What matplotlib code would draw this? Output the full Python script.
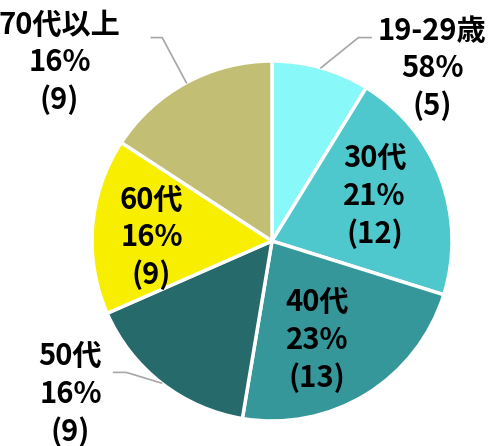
import numpy as np
import matplotlib
matplotlib.use("Agg")
import matplotlib.pyplot as plt

plt.rcParams['font.family'] = ['Noto Sans CJK JP', 'DejaVu Sans']

# data
groups = ["19-29歳", "30代", "40代", "50代", "60代", "70代以上"]
counts = [5, 12, 13, 9, 9, 9]
pct_labels = ["58%", "21%", "23%", "16%", "16%", "16%"]
colors = ["#88F8F8", "#4EC8CC", "#36979A", "#276A6C", "#F7EE00", "#C2BF74"]

# label placement: (x, y) in pie units, and outside leader points
label_pos = [(0.89, 0.96), (0.57, 0.25), (0.25, -0.55), (-1.12, -0.85), (-0.67, 0.02), (-1.18, 0.99)]
leader_elbow = [(0.48, 1.13), None, None, (-0.81, -0.73), None, (-0.61, 1.13)]
leader_end = [(0.55, 1.13), None, None, (-0.88, -0.73), None, (-0.67, 1.13)]

fig = plt.figure(figsize=(4.96, 4.46), dpi=100)
ax = fig.add_axes([0, 0, 1, 1])

wedges, _ = ax.pie(counts, colors=colors, startangle=90, counterclock=False,
                   radius=1, wedgeprops=dict(edgecolor='white', linewidth=2.5))

cx, cy, R = 272, 241, 180
ax.set_xlim(-cx / R, (496 - cx) / R)
ax.set_ylim(-(446 - cy) / R, cy / R)
ax.set_aspect('equal')
ax.axis('off')

for i, w in enumerate(wedges):
    txt = f"{groups[i]}\n{pct_labels[i]}\n({counts[i]})"
    x, y = label_pos[i]
    ax.text(x, y, txt, ha='center', va='center', fontsize=21, fontweight='bold',
            linespacing=1.3, color='black')
    if leader_elbow[i] is not None:
        mid = np.deg2rad((w.theta1 + w.theta2) / 2)
        px, py = np.cos(mid), np.sin(mid)
        ex, ey = leader_elbow[i]
        tx, ty = leader_end[i]
        ax.plot([px, ex, tx], [py, ey, ty], color='#A6A6A6', linewidth=1.2)

fig.savefig("out.png", dpi=100)
